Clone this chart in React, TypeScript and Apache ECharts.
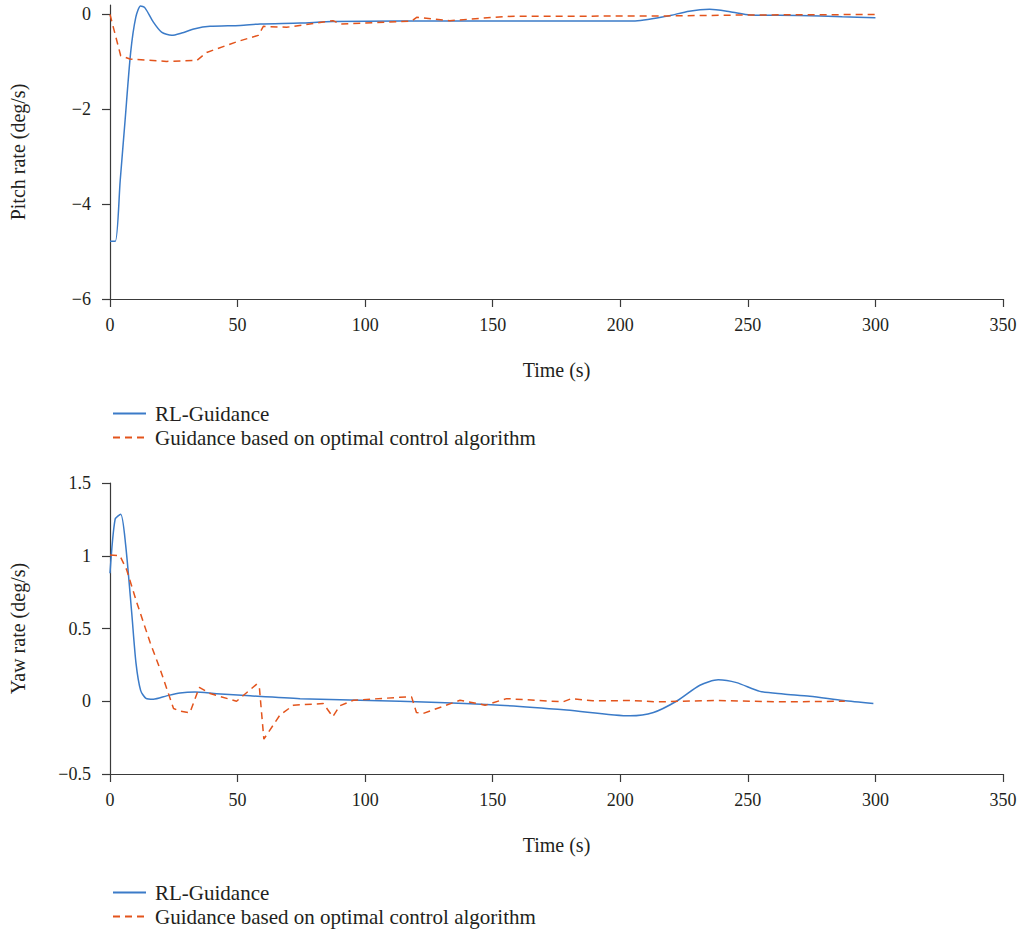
import React, { useEffect, useRef } from "react";
import * as echarts from "echarts";

const xTicks = [0, 50, 100, 150, 200, 250, 300, 350];
const pitchTicks = [-6, -4, -2, 0];
const yawTicks = [-0.5, 0, 0.5, 1, 1.5];
const seriesNames = ["RL-Guidance", "Guidance based on optimal control algorithm"];

const pitchRL: [number, number][] = [
  [0, -4.78], [2.1, -4.78], [4, -3.5], [5.9, -2.24], [8.1, -0.8], [10.1, -0.06],
  [12, 0.18], [13.7, 0.14], [17, -0.16], [20.2, -0.37], [24.2, -0.44], [28.1, -0.39],
  [33.3, -0.3], [39.2, -0.25], [51, -0.23], [58.8, -0.2], [74.5, -0.18], [87.4, -0.15],
  [113.6, -0.14], [160, -0.14], [205, -0.14], [218, -0.04], [227, 0.07], [235, 0.11],
  [243, 0.06], [251, -0.01], [270, -0.02], [287, -0.05], [300, -0.07],
];

const pitchOpt: [number, number][] = [
  [0, 0], [4.2, -0.87], [7.8, -0.94], [22.2, -0.99], [34, -0.97], [37.9, -0.8],
  [50, -0.57], [58.1, -0.44], [60.1, -0.25], [69.2, -0.27], [87.4, -0.13], [90.1, -0.2],
  [113.6, -0.15], [118.2, -0.14], [120.2, -0.06], [133.2, -0.13], [155.4, -0.04],
  [218, -0.03], [251, -0.01], [300.4, 0],
];

const yawRL: [number, number][] = [
  [0, 0.88], [2, 1.25], [4.2, 1.285], [6.1, 1.08], [8.5, 0.61], [10.2, 0.26],
  [12, 0.075], [14.1, 0.02], [17, 0.014], [22.2, 0.037], [27.4, 0.057], [33.3, 0.064],
  [41.8, 0.052], [54.9, 0.037], [74.5, 0.018], [113.6, 0], [152.8, -0.027], [179, -0.06],
  [203.8, -0.1], [213, -0.077], [222, 0], [231.2, 0.11], [238.4, 0.148], [245.6, 0.128],
  [254.7, 0.068], [263.9, 0.05], [274.3, 0.034], [287.4, 0.005], [299.2, -0.016],
];

const yawOpt: [number, number][] = [
  [0, 1.005], [3.9, 1.0], [6.5, 0.905], [10.5, 0.678], [15.7, 0.405], [19.6, 0.223],
  [24.9, -0.05], [27.4, -0.068], [31.3, -0.08], [35, 0.096], [39.2, 0.053], [49.6, 0],
  [57.4, 0.116], [58.5, 0.105], [60.3, -0.26], [66.6, -0.095], [71.9, -0.027],
  [83.6, -0.016], [87.3, -0.106], [90.1, -0.031], [95.4, 0.007], [113.6, 0.027],
  [118.2, 0.03], [120.1, -0.077], [122.7, -0.084], [137.2, 0.007], [147, -0.027],
  [155.4, 0.018], [177.6, -0.004], [180.9, 0.018], [189.3, 0.003], [205, 0.005],
  [214.2, -0.004], [237.7, 0.005], [263.9, -0.004], [288, 0],
];

const FONT = "Liberation Serif";
const TEXT = "#231f20";
const AXIS = "#3a3a3a";
const BLUE = "#3b7bc8";
const ORANGE = "#e3541c";

const fmt = (v: number) => String(v).replace("-", "\u2212");

function xAxis(gridIndex: number) {
  return {
    type: "value",
    gridIndex,
    min: 0,
    max: 350,
    interval: 50,
    name: "Time (s)",
    nameLocation: "middle",
    nameGap: 61,
    nameTextStyle: { fontFamily: FONT, fontSize: 20, color: TEXT },
    axisLine: { onZero: false, lineStyle: { color: AXIS, width: 1.2 } },
    axisTick: { show: true, length: 8, lineStyle: { color: AXIS, width: 1.2 }, customValues: xTicks },
    axisLabel: { fontFamily: FONT, fontSize: 18, color: TEXT, margin: 17, formatter: fmt, customValues: xTicks },
    splitLine: { show: false },
  };
}

function yAxis(gridIndex: number, name: string, min: number, max: number, interval: number, ticks: number[]) {
  return {
    type: "value",
    gridIndex,
    min,
    max,
    interval,
    name,
    nameLocation: "middle",
    nameGap: 82,
    nameTextStyle: { fontFamily: FONT, fontSize: 20, color: TEXT },
    axisLine: { show: true, onZero: false, lineStyle: { color: AXIS, width: 1.2 } },
    axisTick: { show: true, length: 8, lineStyle: { color: AXIS, width: 1.2 }, customValues: ticks },
    axisLabel: {
      fontFamily: FONT, fontSize: 18, color: TEXT, margin: 19,
      formatter: (v: number) => (ticks.includes(v) ? fmt(v) : ""),
      customValues: ticks,
    },
    splitLine: { show: false },
  };
}

function line(name: string, data: [number, number][], idx: number, color: string, dashed: boolean) {
  return {
    type: "line",
    name,
    xAxisIndex: idx,
    yAxisIndex: idx,
    data,
    symbol: "none",
    smooth: dashed ? false : 0.25,
    color,
    lineStyle: { color, width: 1.5, type: dashed ? [7, 5] : "solid" },
  };
}

function legend(top: number) {
  return {
    orient: "vertical",
    left: 112,
    top,
    padding: 0,
    itemWidth: 33,
    itemHeight: 14,
    itemGap: 3,
    data: seriesNames,
    itemStyle: { opacity: 0 },
    textStyle: { fontFamily: FONT, fontSize: 21, color: TEXT, padding: [0, 0, 0, 4] },
    selectedMode: false,
  };
}

export default function App() {
  const ref = useRef<HTMLDivElement>(null);
  useEffect(() => {
    if (!ref.current) return;
    const chart = echarts.init(ref.current, undefined, { renderer: "svg" });
    chart.setOption({
      animation: false,
      backgroundColor: "#ffffff",
      grid: [
        { left: 110, right: 19, top: 5, height: 294 },
        { left: 110, right: 19, top: 483, height: 291 },
      ],
      xAxis: [xAxis(0), xAxis(1)],
      yAxis: [
        yAxis(0, "Pitch rate (deg/s)", -6, 0.2, 2, pitchTicks),
        yAxis(1, "Yaw rate (deg/s)", -0.5, 1.5, 0.5, yawTicks),
      ],
      legend: [legend(403), legend(882)],
      series: [
        line(seriesNames[0], pitchRL, 0, BLUE, false),
        line(seriesNames[1], pitchOpt, 0, ORANGE, true),
        line(seriesNames[0], yawRL, 1, BLUE, false),
        line(seriesNames[1], yawOpt, 1, ORANGE, true),
      ],
    });
    return () => chart.dispose();
  }, []);
  return (
    <div
      ref={ref}
      style={{ position: "absolute", left: 0, top: 0, width: 1022, height: 934, background: "#fff" }}
    />
  );
}
